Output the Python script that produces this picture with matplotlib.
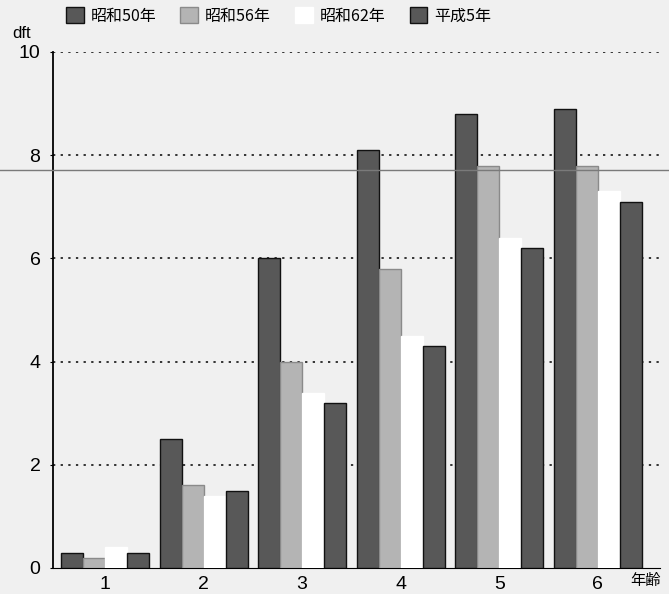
import matplotlib
matplotlib.use("Agg")
import matplotlib.pyplot as plt
from matplotlib.lines import Line2D
import numpy as np

plt.rcParams['font.family'] = ['Noto Sans CJK JP', 'DejaVu Sans']

ages = [1, 2, 3, 4, 5, 6]
series_names = ["昭和50年", "昭和56年", "昭和62年", "平成5年"]
s50 = [0.3, 2.5, 6.0, 8.1, 8.8, 8.9]
s56 = [0.2, 1.6, 4.0, 5.8, 7.8, 7.8]
s62 = [0.4, 1.4, 3.4, 4.5, 6.4, 7.3]
h5 = [0.3, 1.5, 3.2, 4.3, 6.2, 7.1]
yticks = [0, 2, 4, 6, 8, 10]
ylabel = "dft"
xlabel = "年齢"

bg = '#f0f0f0'
fig = plt.figure(figsize=(6.69, 5.94), dpi=100, facecolor=bg)
ax = fig.add_axes([53/669, 1-568/594, (660-53)/669, (568-52)/594])
ax.set_facecolor(bg)

w = 0.223
x = np.array(ages, dtype=float)
styles = [
    dict(color='#585858', edgecolor='#111111'),
    dict(color='#b4b4b4', edgecolor='#8a8a8a'),
    dict(color='#ffffff', edgecolor='#ffffff'),
    dict(color='#585858', edgecolor='#111111'),
]
data = [s50, s56, s62, h5]
handles = []
for i, (vals, st) in enumerate(zip(data, styles)):
    b = ax.bar(x + (i - 1.5) * w, vals, width=w, linewidth=1.0, zorder=3, **st)
    handles.append(b)

for yv in yticks[1:]:
    ax.axhline(yv, color='black', linestyle=(0, (1.5, 3.5)), linewidth=1.1, zorder=1)

ax.set_ylim(0, 10)
ax.set_xlim(0.473, 6.63)
ax.set_yticks(yticks)
ax.set_yticklabels([str(v) for v in yticks], fontsize=14, family='Liberation Sans')
ax.set_xticks(ages)
ax.set_xticklabels([str(a) for a in ages], fontsize=14, family='Liberation Sans')
ax.tick_params(axis='x', length=0, pad=6)
ax.tick_params(axis='y', length=2, pad=7)
for s in ['top', 'right']:
    ax.spines[s].set_visible(False)
ax.spines['left'].set_linewidth(1.3)
ax.spines['bottom'].set_linewidth(0.8)
ax.spines['bottom'].set_linestyle((0, (2, 1)))

ax.text(6.48, -0.25, xlabel, fontsize=11, ha='center', va='center', clip_on=False)
fig.text(12/669, 1-34/594, ylabel, fontsize=12, ha='left', va='center', family='Liberation Sans')

leg = fig.legend(handles, series_names, loc='center left', bbox_to_anchor=(66/669, 1-16/594),
                 ncol=4, frameon=False, fontsize=11.5, handlelength=1.1, handleheight=1.1,
                 handletextpad=0.45, columnspacing=1.5, borderaxespad=0, borderpad=0)

fig.add_artist(Line2D([0, 1], [1-170/594, 1-170/594], color='#7a7a7a', linewidth=1.0,
                      transform=fig.transFigure, zorder=10))

fig.savefig('out.png', dpi=100, facecolor=bg)
